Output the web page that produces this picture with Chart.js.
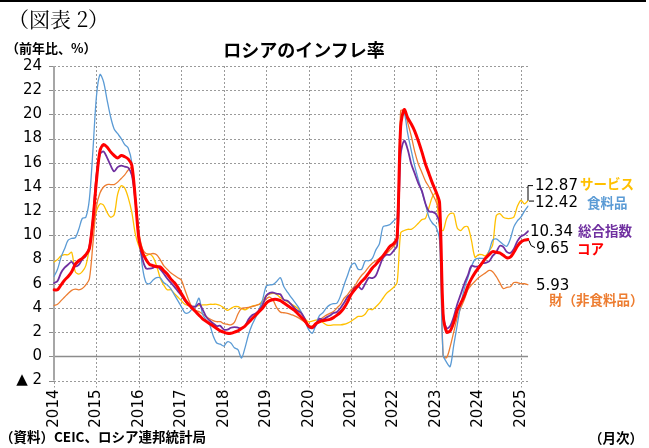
<!DOCTYPE html>
<html lang="ja">
<head>
<meta charset="utf-8">
<script src="https://cdn.jsdelivr.net/npm/chart.js@4.4.1/dist/chart.umd.min.js"></script>
<style>
  html, body { margin: 0; padding: 0; background: #fff; }
  #wrap { position: relative; width: 649px; height: 448px; overflow: hidden; font-family: "Noto Sans CJK JP", sans-serif; }
  #chart { position: absolute; left: 0; top: 0; }
  .t { position: absolute; white-space: nowrap; line-height: 1; }
  .b { font-weight: bold; }
  .num { font-family: "DejaVu Sans", sans-serif; font-size: 15px; color: #000; }
  .lab { font-size: 13.5px; font-weight: bold; }
</style>
</head>
<body>
<div id="wrap">
  <div style="position:absolute;left:0;top:0;width:646px;height:2px;background:#000"></div>
  <canvas id="chart" width="649" height="448"></canvas>
  <div class="t" style="left:8px;top:8px;font-size:21px;font-family:'Noto Serif CJK JP','Liberation Serif','Noto Sans CJK JP',serif;">（図表 2）</div>
  <div class="t b" style="left:6px;top:41px;font-size:13px;">（前年比、%）</div>
  <div class="t b" style="left:304px;top:40px;font-size:18px;transform:translateX(-50%);">ロシアのインフレ率</div>
  <div class="t b" style="left:0px;top:430px;font-size:13.5px;">（資料）CEIC、ロシア連邦統計局</div>
  <div class="t b" style="left:589px;top:431px;font-size:13.5px;">（月次）</div>

  <div class="t num" style="left:535px;top:178px;">12.87</div>
  <div class="t lab" style="left:580px;top:177px;color:#ffc000;">サービス</div>
  <div class="t num" style="left:535px;top:195px;">12.42</div>
  <div class="t lab" style="left:587px;top:196px;color:#5b9bd5;">食料品</div>
  <div class="t num" style="left:530px;top:224px;">10.34</div>
  <div class="t lab" style="left:578px;top:224px;color:#7030a0;">総合指数</div>
  <div class="t num" style="left:536px;top:241px;">9.65</div>
  <div class="t lab" style="left:577px;top:242px;color:#ff0000;">コア</div>
  <div class="t num" style="left:536px;top:278px;">5.93</div>
  <div class="t lab" style="left:549px;top:293px;color:#ed7d31;">財（非食料品）</div>
</div>
<script>
const YEARS = ['2014', '2015', '2016', '2017', '2018', '2019', '2020', '2021', '2022', '2023', '2024', '2025'];
const Y_TICK_LABELS = ['▲ 2', '0', '2', '4', '6', '8', '10', '12', '14', '16', '18', '20', '22', '24'];

// 総合指数 (headline CPI, y/y %), Jan 2014 - Mar 2025
const TOTAL = [
  6.05, 6.23, 6.91, 7.33, 7.59, 7.80, 7.45, 7.55, 8.03, 8.29, 9.06, 11.36,
  14.97, 16.71, 16.93, 16.42, 15.78, 15.29, 15.64, 15.77, 15.68, 15.59, 14.98, 12.91,
  9.77, 8.06, 7.27, 7.25, 7.31, 7.48, 7.20, 6.85, 6.43, 6.09, 5.76, 5.38,
  5.04, 4.59, 4.25, 4.13, 4.09, 4.35, 3.88, 3.28, 2.96, 2.72, 2.50, 2.52,
  2.21, 2.20, 2.36, 2.42, 2.37, 2.30, 2.51, 3.07, 3.39, 3.55, 3.83, 4.27,
  5.00, 5.24, 5.27, 5.17, 5.13, 4.66, 4.59, 4.31, 3.99, 3.75, 3.54, 3.05,
  2.42, 2.31, 2.55, 3.10, 3.03, 3.21, 3.37, 3.58, 3.67, 3.99, 4.42, 4.91,
  5.19, 5.67, 5.79, 5.53, 6.02, 6.50, 6.46, 6.68, 7.41, 8.13, 8.40, 8.39,
  8.73, 9.15, 16.69, 17.83, 17.10, 15.90, 15.10, 14.30, 13.68, 12.63, 11.98, 11.94,
  11.77, 10.99, 3.51, 2.31, 2.51, 3.25, 4.30, 5.15, 6.00, 6.69, 7.48, 7.42,
  7.44, 7.69, 7.72, 7.84, 8.30, 8.59, 9.13, 9.05, 8.63, 8.54, 8.88, 9.52,
  9.92, 10.06, 10.34
];

// コア
const CORE = [
  5.5, 5.5, 5.9, 6.3, 6.6, 7.0, 7.6, 7.9, 8.1, 8.4, 8.9, 11.2,
  14.5, 17.0, 17.5, 17.3, 16.9, 16.6, 16.4, 16.6, 16.5, 16.3, 15.8, 13.0,
  9.7, 8.6, 8.0, 7.6, 7.5, 7.4, 7.4, 7.1, 6.8, 6.4, 6.1, 5.7,
  5.2, 4.7, 4.3, 4.0, 3.7, 3.4, 3.1, 2.9, 2.7, 2.5, 2.3, 2.1,
  2.0, 1.9, 1.9, 2.0, 2.1, 2.3, 2.5, 2.8, 3.1, 3.4, 3.7, 4.0,
  4.4, 4.6, 4.7, 4.7, 4.6, 4.4, 4.2, 4.0, 3.8, 3.5, 3.2, 2.9,
  2.5, 2.4, 2.7, 2.85, 2.95, 3.0, 3.05, 3.2, 3.4, 3.65, 4.0, 4.5,
  5.1, 5.5, 5.85, 6.2, 6.5, 6.9, 7.3, 7.6, 7.96, 8.3, 8.7, 9.1,
  9.3, 9.8, 19.0, 20.4, 19.7, 19.2, 18.6, 17.8, 16.9, 15.9, 15.1, 14.3,
  13.6, 12.7, 3.5, 2.0, 2.1, 2.8, 3.8, 4.4, 5.0, 5.8, 6.4, 6.9,
  7.3, 7.7, 8.1, 8.4, 8.65, 8.6, 8.55, 8.35, 8.15, 8.2, 8.6, 9.1,
  9.45, 9.6, 9.65
];

// 食料品
const FOOD = [
  6.6, 7.2, 8.2, 8.9, 9.6, 9.75, 9.8, 10.5, 11.4, 11.5, 13.0, 17.0,
  21.5, 23.3, 22.7, 21.2, 19.8, 18.8, 18.4, 18.0, 17.5, 17.2, 16.0, 13.2,
  10.2, 7.4, 6.1, 6.0, 6.3, 6.5, 6.5, 6.1, 5.9, 5.6, 5.1, 4.6,
  4.1, 3.6, 3.6, 3.9, 4.2, 4.8, 3.5, 3.0, 2.6, 1.7, 1.1, 1.0,
  0.85, 1.2, 1.1, 0.7, 0.55, -0.15, 0.7, 1.8, 2.6, 3.2, 3.9, 4.7,
  5.8, 5.9, 5.95, 6.2, 6.5, 5.75, 5.3, 4.9, 4.5, 4.1, 3.6, 2.9,
  2.2, 1.9, 2.6, 3.35, 3.6, 4.0, 4.25, 4.35, 4.4, 5.0, 5.9, 6.7,
  7.5, 7.7, 7.2, 7.2, 7.9, 7.9, 8.1, 8.8, 9.3, 10.7, 10.8, 10.9,
  11.2, 11.5, 19.3, 20.1, 18.4, 17.0, 15.7, 14.6, 13.6, 12.6, 11.5, 11.0,
  10.7, 9.6, 0.1, -0.5, -0.85, 0.9, 2.6, 4.3, 5.6, 6.5, 7.4, 8.0,
  8.1, 8.1, 8.1, 8.7, 9.6, 9.7, 9.5, 9.25, 9.1, 9.7, 10.7, 11.2,
  11.5, 12.0, 12.42
];

// サービス
const SERVICES = [
  7.8, 8.0, 8.3, 8.4, 8.4, 8.6, 7.0, 6.8, 7.0, 7.5, 8.9, 10.6,
  12.0, 12.6, 12.5, 11.9, 11.5, 11.7, 13.4, 14.1, 13.9, 13.1, 11.9, 10.1,
  9.1, 8.5, 8.3, 8.45, 8.2, 7.5, 6.5, 5.9, 5.5, 5.5, 5.2, 4.9,
  4.6, 4.3, 4.2, 4.1, 4.15, 4.2, 4.25, 4.25, 4.3, 4.3, 4.3, 4.2,
  4.0, 3.8, 3.95, 4.1, 4.1, 3.95, 3.85, 4.0, 4.15, 4.2, 4.3, 4.6,
  5.0, 5.15, 5.2, 5.1, 4.85, 4.7, 4.5, 4.35, 4.15, 3.95, 3.55, 3.1,
  2.85, 2.9, 3.0, 3.0, 2.8, 2.6, 2.55, 2.6, 2.6, 2.6, 2.65, 2.75,
  2.9, 3.1, 3.3, 3.3, 3.5, 3.9, 3.85, 4.1, 4.4, 4.8, 5.2, 5.45,
  5.7, 6.1, 10.2, 10.4, 10.5, 10.5, 10.7, 11.0, 11.3, 11.4, 12.3, 13.2,
  13.5, 10.6, 10.4, 11.4, 11.8, 11.8, 10.6, 10.4, 10.7, 10.7, 9.6, 8.2,
  8.4, 8.4, 8.3, 8.7, 9.2, 11.6, 11.8, 11.5, 11.4, 11.4, 11.5, 12.4,
  12.9, 12.6, 12.87
];

// 財（非食料品）
const GOODS = [
  4.2, 4.3, 4.6, 4.9, 5.2, 5.45, 5.55, 5.5, 5.6, 5.9, 6.4, 9.3,
  12.4, 13.5, 14.0, 14.2, 14.2, 14.2, 14.4, 14.7, 15.0, 15.4, 15.6, 13.2,
  10.3, 8.9, 8.5, 8.45, 8.5, 8.4, 8.0, 7.5, 7.2, 6.9, 6.7, 6.5,
  6.3, 5.5, 4.7, 4.1, 3.8, 3.7, 3.5, 3.3, 3.1, 2.95, 2.86, 2.86,
  2.7, 2.65, 2.6, 2.8, 3.5, 3.95, 4.0, 4.05, 4.1, 4.2, 4.3, 4.4,
  4.75, 4.9, 4.6, 4.0, 3.65, 3.6, 3.55, 3.45, 3.35, 3.2, 3.0, 2.8,
  2.55, 2.5, 2.7, 2.95, 3.2, 3.4, 3.55, 3.7, 4.0, 4.3, 4.8, 5.1,
  5.5, 5.8, 6.3, 6.7, 7.0, 7.4, 7.7, 7.9, 8.1, 8.3, 8.5, 8.8,
  9.1, 9.5, 20.3, 20.3, 19.3, 18.2, 16.9, 15.9, 15.2, 14.5, 14.0, 13.4,
  12.8, 11.7, 0.0, -0.1, 0.8, 2.0, 3.2, 4.0, 4.7, 5.5, 5.9, 6.2,
  6.5, 6.7, 6.9, 7.1, 7.0, 6.6, 6.1, 5.6, 5.7, 5.75, 6.1, 6.1,
  6.0, 6.0, 5.93
];

// month categories: Jan 2014 .. Mar 2025
const MONTHS = [];
YEARS.forEach(y => { for (let m = 1; m <= 12; m++) MONTHS.push(y + '/' + m); });
MONTHS.length = TOTAL.length;

const GRID_COLOR = '#9a9a9a';

// grid, ticks, zero line and axis drawn from the scales after the lines,
// slipped behind them with destination-over; then leader lines on top
const refLines = {
  id: 'refLines',
  afterDatasetsDraw(chart) {
    const { ctx, chartArea: a, scales: { x, y } } = chart;
    ctx.save();
    ctx.globalCompositeOperation = 'destination-over';

    ctx.strokeStyle = '#a6a6a6';
    ctx.lineWidth = 2;
    ctx.beginPath();
    ctx.moveTo(a.left, a.top);
    ctx.lineTo(a.left, a.bottom);
    ctx.stroke();

    const y0 = Math.round(y.getPixelForValue(0)) + 0.5;
    ctx.strokeStyle = '#8c8c8c';
    ctx.lineWidth = 1.5;
    ctx.beginPath();
    ctx.moveTo(a.left, y0);
    ctx.lineTo(a.right, y0);
    ctx.stroke();

    ctx.lineWidth = 1;
    ctx.beginPath();
    y.ticks.forEach(t => {
      const py = Math.round(y.getPixelForValue(t.value)) + 0.5;
      ctx.moveTo(a.left - 5, py);
      ctx.lineTo(a.left, py);
    });
    ctx.stroke();

    ctx.strokeStyle = GRID_COLOR;
    ctx.setLineDash([2, 2]);
    ctx.beginPath();
    y.ticks.forEach(t => {
      if (t.value === 0) return;
      const py = Math.round(y.getPixelForValue(t.value)) + 0.5;
      ctx.moveTo(a.left, py);
      ctx.lineTo(a.right, py);
    });
    YEARS.forEach((yr, k) => {
      const px = Math.round(x.getPixelForValue(k * 12)) + 0.5;
      ctx.moveTo(px, a.top);
      ctx.lineTo(px, a.bottom + 7);
    });
    ctx.stroke();
    ctx.restore();

    const last = TOTAL.length - 1;
    const ySvc = y.getPixelForValue(SERVICES[last]);
    const yFood = y.getPixelForValue(FOOD[last]);
    const yCore = y.getPixelForValue(CORE[last]);
    ctx.save();
    ctx.strokeStyle = '#000';
    ctx.lineWidth = 1;
    ctx.beginPath();
    ctx.moveTo(a.right, ySvc);
    ctx.lineTo(a.right, ySvc - 15);
    ctx.lineTo(a.right + 5, ySvc - 15);
    ctx.moveTo(a.right + 1, yFood - 5);
    ctx.lineTo(a.right + 6, yFood - 5);
    ctx.moveTo(a.right + 1, yCore + 1);
    ctx.lineTo(a.right + 3, yCore + 6);
    ctx.lineTo(a.right + 7, yCore + 8);
    ctx.stroke();
    ctx.restore();
  }
};

function series(data, color, width) {
  return { data: data, borderColor: color, backgroundColor: color, borderWidth: width, pointRadius: 0, fill: false };
}

new Chart(document.getElementById('chart'), {
  type: 'line',
  data: {
    labels: MONTHS,
    datasets: [
      series(CORE, '#ff0000', 3),
      series(TOTAL, '#7030a0', 1.8),
      series(FOOD, '#5b9bd5', 1.3),
      series(GOODS, '#ed7d31', 1.3),
      series(SERVICES, '#ffc000', 1.3),
    ],
  },
  options: {
    responsive: false,
    animation: false,
    devicePixelRatio: 1,
    layout: { padding: { top: 66, right: 121, bottom: 0, left: 0 } },
    plugins: { legend: { display: false }, tooltip: { enabled: false } },
    elements: { line: { tension: 0.3, borderJoinStyle: 'round', borderCapStyle: 'round' } },
    scales: {
      x: {
        type: 'category',
        offset: false,
        grid: { display: false, drawTicks: true, tickLength: 7 },
        border: { display: false },
        ticks: {
          autoSkip: false,
          maxRotation: 90,
          minRotation: 90,
          padding: 2,
          color: '#000',
          font: { family: 'DejaVu Sans', size: 15 },
          callback: (v, i) => (i % 12 === 0 ? YEARS[i / 12] : ''),
        },
        afterFit: s => { s.height = 67.5; },
      },
      y: {
        min: -2,
        max: 24,
        grid: { display: false, drawTicks: true, tickLength: 5 },
        border: { display: false },
        ticks: {
          stepSize: 2,
          padding: 7,
          color: '#000',
          font: { family: 'DejaVu Sans', size: 15 },
          callback: (v, i) => Y_TICK_LABELS[i],
        },
        afterFit: s => { s.width = 54; },
      },
    },
  },
  plugins: [refLines],
});
</script>
</body>
</html>
